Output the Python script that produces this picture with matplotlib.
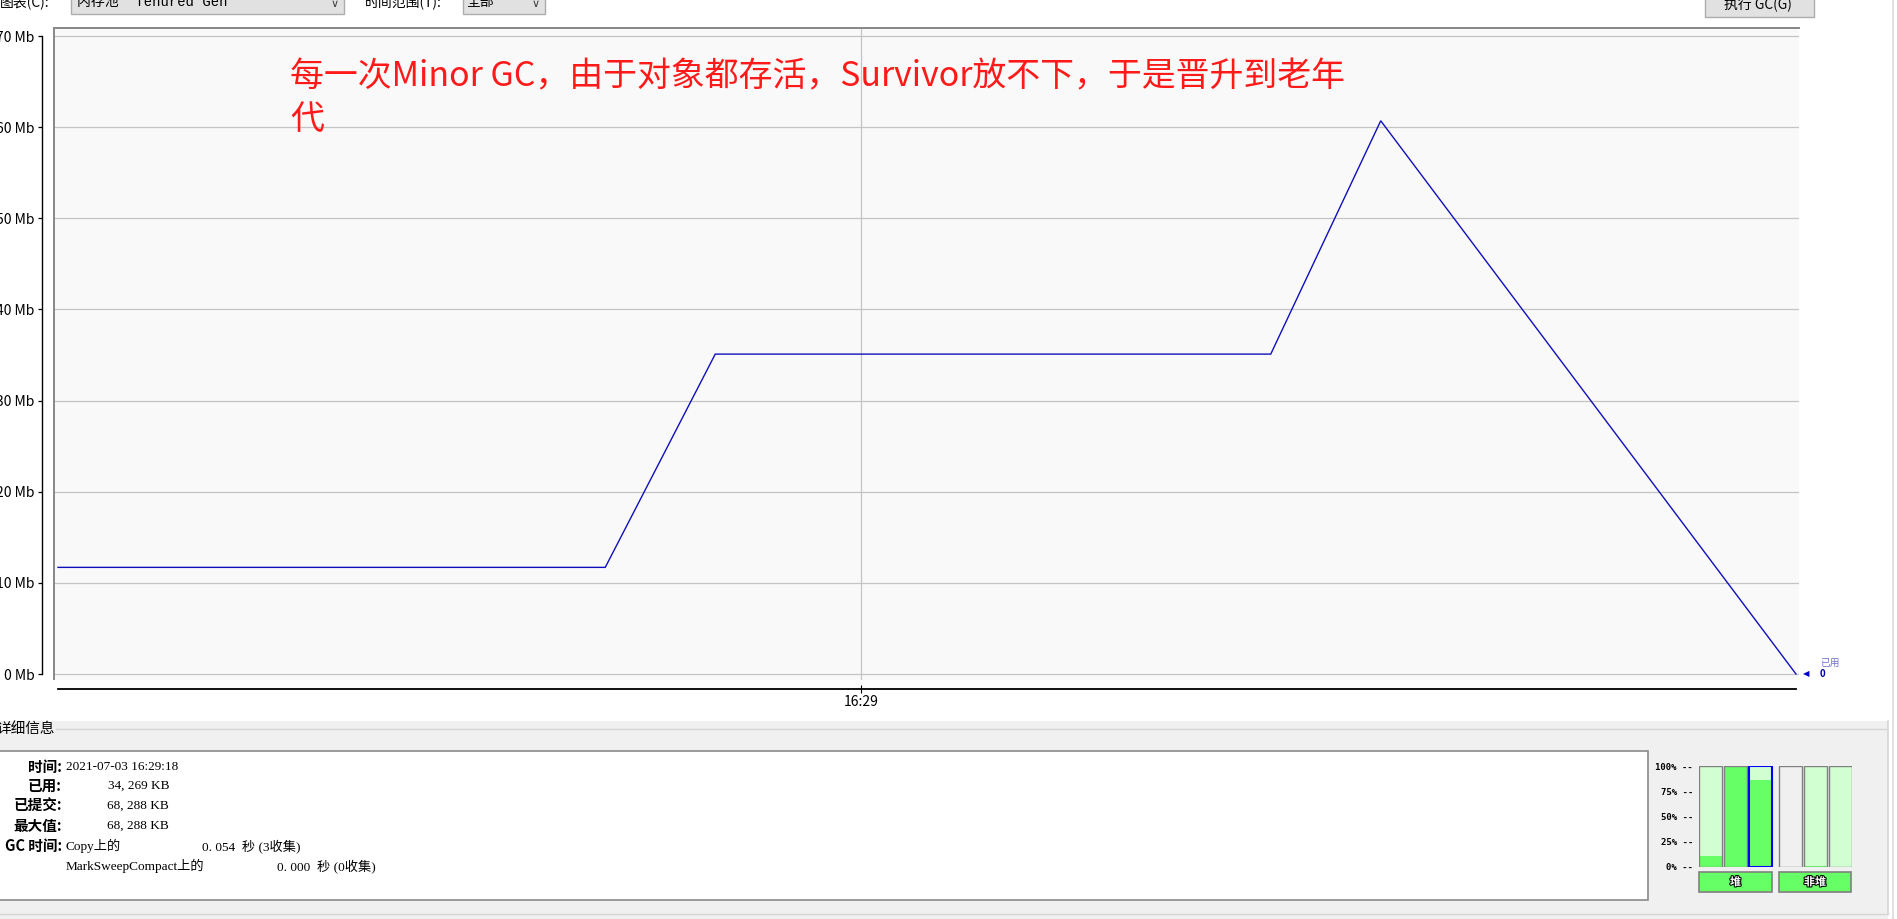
import matplotlib
matplotlib.use("Agg")
import matplotlib.pyplot as plt
import matplotlib.patheffects as pe
from matplotlib.patches import Rectangle

plt.rcParams["font.family"] = ["Noto Sans CJK SC", "DejaVu Sans"]

W, H = 1897, 919
DPI = 100

# Tenured Gen usage, time in seconds relative to 16:29:00
times_s = [-29.2, -9.3, -5.3, 14.9, 18.9, 34.0]
used_mb = [11.7, 11.7, 35.1, 35.1, 60.7, 0.0]
mb_ticks = [0, 10, 20, 30, 40, 50, 60, 70]
time_ticks = [0]
time_tick_labels = ["16:29"]
series_name = "已用"

note = "每一次Minor GC，由于对象都存活，Survivor放不下，于是晋升到老年\n代"

# details panel
detail_labels = ["时间:", "已用:", "已提交:", "最大值:", "GC 时间:"]
detail_time = "2021-07-03 16:29:18"
detail_kb = ["34, 269 KB", "68, 288 KB", "68, 288 KB"]
gc_names = ["Copy上的", "MarkSweepCompact上的"]
gc_values = ["0. 054  秒 (3收集)", "0. 000  秒 (0收集)"]

# memory pool bars (percent used)
pool_pct = [11, 100, 86, 0, 1, 0]
pool_avail = [True, True, True, False, True, True]
pool_groups = ["堆", "非堆"]
pct_ticks = [0, 25, 50, 75, 100]

SERIF = ["Liberation Serif", "Noto Sans CJK SC"]
MONO = ["Liberation Mono", "DejaVu Sans Mono"]


def frac(x0, y0, x1, y1):
    # pixel box (top-left origin) -> figure fraction rect
    return [x0 / W, 1 - y1 / H, (x1 - x0) / W, (y1 - y0) / H]


fig = plt.figure(figsize=(W / DPI, H / DPI), dpi=DPI, facecolor="white")

# background / window chrome in pixel coordinates
bg = fig.add_axes([0, 0, 1, 1])
bg.set_zorder(-1)
bg.set_xlim(0, W)
bg.set_ylim(H, 0)
bg.axis("off")


def rect(x, y, w, h, fc, ec="none", lw=1.0, z=1):
    bg.add_patch(Rectangle((x, y), w, h, facecolor=fc, edgecolor=ec, linewidth=lw, zorder=z))


# top toolbar
bg.text(0, 9, "图表(C):", fontsize=10, va="bottom", ha="left")
rect(71, -4, 273, 18, "#e1e1e1", "#adadad")
bg.text(77, 9, '内存池 "Tenured Gen"', fontsize=10, va="bottom", ha="left", family=MONO + ["Noto Sans CJK SC"])
bg.text(335, 9, "∨", fontsize=8, va="bottom", ha="center", color="#404040", family="DejaVu Sans")
bg.text(365, 9, "时间范围(T):", fontsize=10, va="bottom", ha="left")
rect(463, -4, 82, 18, "#e1e1e1", "#adadad")
bg.text(467, 9, "全部", fontsize=10, va="bottom", ha="left")
bg.text(536, 9, "∨", fontsize=8, va="bottom", ha="center", color="#404040", family="DejaVu Sans")
rect(1705, -4, 109, 21, "#e1e1e1", "#adadad")
bg.text(1758, 11, "执行 GC(G)", fontsize=10, va="bottom", ha="center")

# plot frame (top + left gray border)
rect(53, 27, 1747, 2, "#8a8a8a", z=2)
rect(53, 27, 2, 653, "#8a8a8a", z=2)

# window edge
bg.plot([1893, 1893], [0, H], color="#dcdcdc", lw=1.2)

# lower panel
rect(0, 721, 1888, 198, "#f0f0f0")
bg.plot([56, 1886], [729, 729], color="#d5d5d5", lw=1)
bg.plot([1888, 1888], [721, 914], color="#d5d5d5", lw=1.2)
bg.plot([0, 1888], [914, 914], color="#d5d5d5", lw=1)
bg.text(-4, 729, "详细信息", fontsize=10.5, va="center", ha="left")
rect(-2, 751, 1650, 149, "white", "#8a8a8a", lw=1.2)

rows_y = [767, 786, 806, 826, 846, 866]
for lab, yy in zip(detail_labels, rows_y):
    bg.text(62, yy, lab, fontsize=10.5, fontweight="bold", ha="right", va="center")
bg.text(66, rows_y[0], detail_time, fontsize=9.5, ha="left", va="center", family=SERIF)
for val, yy in zip(detail_kb, rows_y[1:4]):
    bg.text(169, yy, val, fontsize=9.5, ha="right", va="center", family=SERIF)
bg.text(66, rows_y[4], gc_names[0], fontsize=9.5, ha="left", va="center", family=SERIF)
bg.text(202, rows_y[4], gc_values[0], fontsize=9.5, ha="left", va="center", family=SERIF)
bg.text(66, rows_y[5], gc_names[1], fontsize=9.5, ha="left", va="center", family=SERIF)
bg.text(277, rows_y[5], gc_values[1], fontsize=9.5, ha="left", va="center", family=SERIF)

# main chart
ax = fig.add_axes(frac(55, 29, 1799, 680))
ax.set_facecolor("#f9f9f9")
ax.plot(times_s, used_mb, color="#1010bb", lw=1.0, solid_joinstyle="miter")
ax.set_xlim(-29.31, 34.11)
ax.set_ylim(-0.658, 70.77)

ax.set_yticks(mb_ticks)
ax.set_yticklabels([f"{v} Mb" for v in mb_ticks], family=MONO, fontsize=9.5)
ax.set_xticks(time_ticks)
ax.set_xticklabels(time_tick_labels, family=MONO, fontsize=9.5)
ax.grid(True, color="#c4c4c4", lw=0.9)

for side in ["top", "right"]:
    ax.spines[side].set_visible(False)
ax.spines["left"].set_position(("outward", 13 * 0.72))
ax.spines["left"].set_bounds(0, 70)
ax.spines["left"].set_linewidth(1.0)
ax.spines["bottom"].set_position(("outward", 9 * 0.72))
ax.spines["bottom"].set_bounds(times_s[0], times_s[-1])
ax.spines["bottom"].set_linewidth(1.3)
ax.tick_params(axis="y", direction="out", length=3, width=0.9, pad=2.2)
ax.tick_params(axis="x", direction="inout", length=6, width=0.8, pad=1.5)

# last value marker at the right end
last_t, last_v = times_s[-1], used_mb[-1]
ax.annotate("◀", xy=(last_t, last_v), xytext=(10, 0), textcoords="offset pixels",
            fontsize=6, color="#0000cc", va="center", ha="center", family="DejaVu Sans",
            annotation_clip=False)
ax.annotate(f"{last_v:.0f}", xy=(last_t, last_v), xytext=(24, 0), textcoords="offset pixels",
            fontsize=7, color="#0000aa", va="center", ha="left", fontweight="bold",
            annotation_clip=False)
ax.annotate(series_name, xy=(last_t, last_v), xytext=(24, 11), textcoords="offset pixels",
            fontsize=7, color="#7070d0", va="center", ha="left", annotation_clip=False)

fig.text(290 / W, 1 - 98 / H, note, fontsize=24.4, color="#ff1a1a", ha="left", va="center",
         linespacing=1.27, zorder=5)

# memory pool bars
bx = fig.add_axes(frac(1699, 766, 1852, 867))
bx.set_facecolor("none")
positions = [0, 1, 2, 3.2, 4.2, 5.2]
bg_colors = ["#d2ffd2" if a else "#f0f0f0" for a in pool_avail]
edge_colors = ["#808080"] * len(pool_pct)
edge_colors[2] = "#0000ff"
edge_widths = [1.0] * len(pool_pct)
edge_widths[2] = 1.5
bx.bar(positions, [100] * len(positions), width=0.92, color=bg_colors, linewidth=0)
bx.bar(positions, pool_pct, width=0.92, color="#66ff66", linewidth=0)
bx.bar(positions, [100] * len(positions), width=0.92, fill=False, edgecolor=edge_colors,
       linewidth=edge_widths)
bx.set_xlim(-0.46, 5.66)
bx.set_ylim(0, 100)
bx.set_xticks([])
bx.set_yticks(pct_ticks)
bx.set_yticklabels([f"{p}% --" for p in pct_ticks], family="DejaVu Sans Mono", fontsize=6.5,
                   fontweight="bold")
bx.tick_params(axis="y", length=0, pad=4.3)
for s in bx.spines.values():
    s.set_visible(False)

for (x0, x1), name in zip([(1699, 1772), (1779, 1851)], pool_groups):
    rect(x0, 872, x1 - x0, 20, "#66ff66", "#808080", lw=1.2)
    bg.text((x0 + x1) / 2, 882, name, fontsize=8, fontweight="bold", color="white", ha="center",
            va="center", path_effects=[pe.withStroke(linewidth=1.5, foreground="black")])

fig.savefig("out.png", dpi=DPI, facecolor="white")
